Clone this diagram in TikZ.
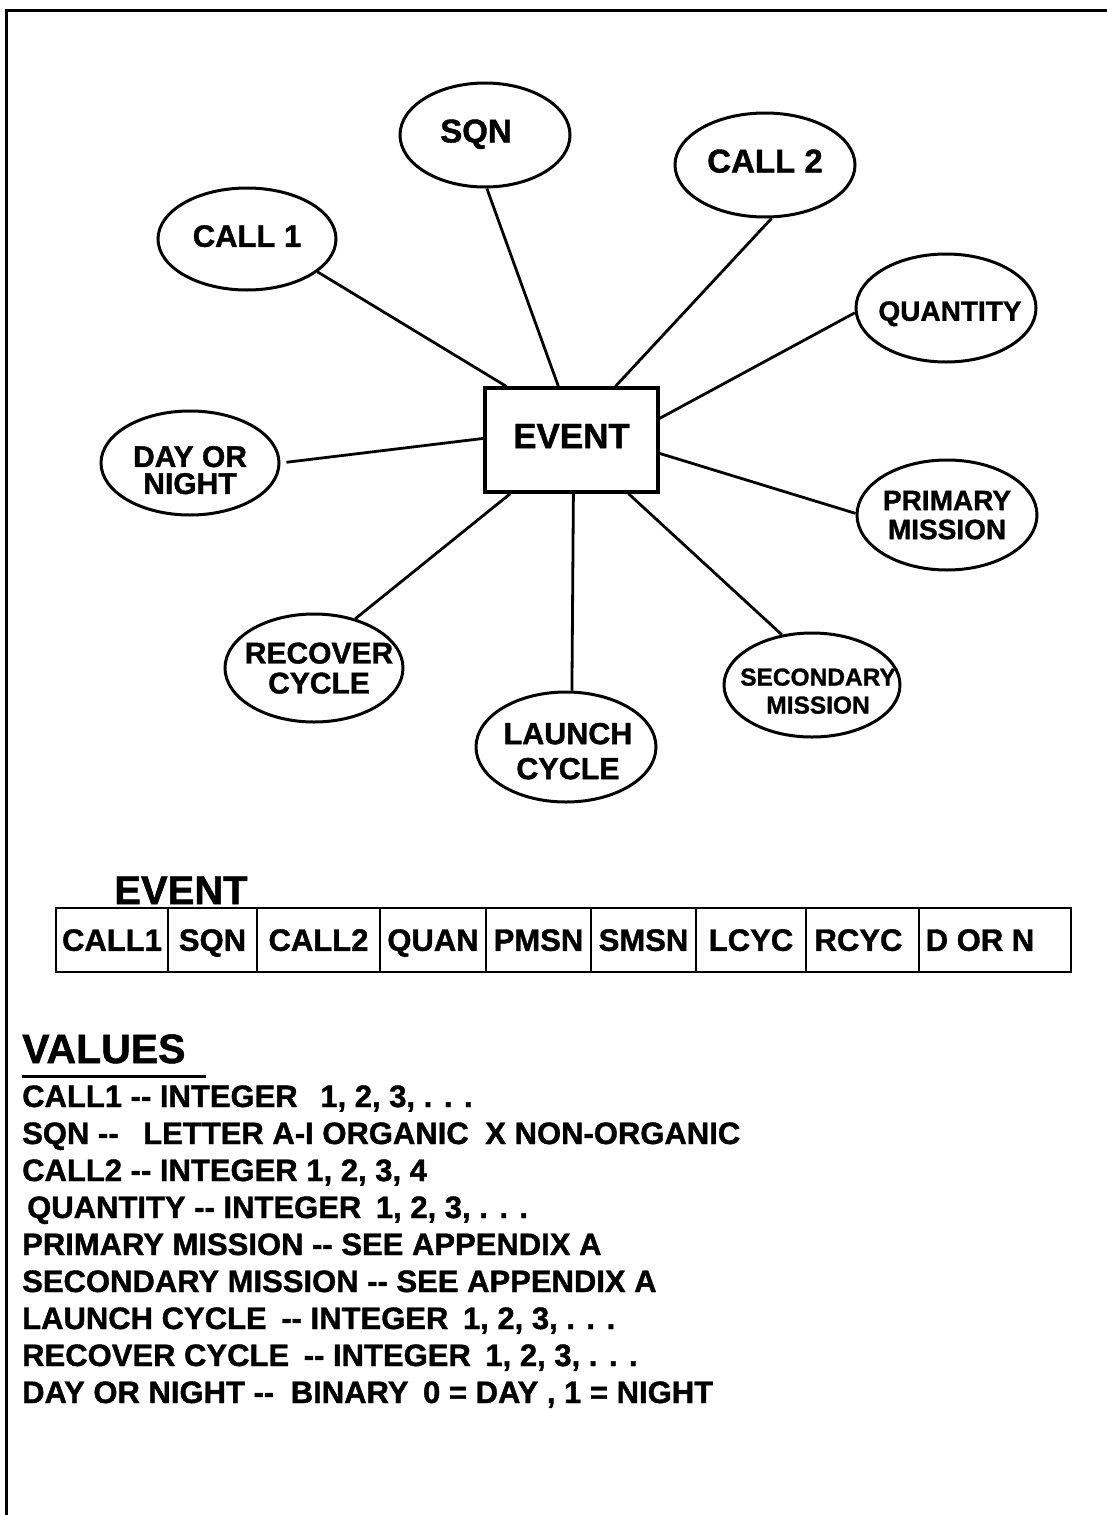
\documentclass[tikz,border=0pt]{standalone}
\usepackage{fontspec}
\setmainfont{Liberation Sans}[BoldFont={Liberation Sans Bold}, BoldFeatures={FakeBold=1.2}]
\usetikzlibrary{shapes.geometric,calc}
\newcommand\fsz[2]{\fontsize{#1}{#2}\selectfont\bfseries}
\begin{document}
\begin{tikzpicture}[x=1pt,y=-1pt,
  bubble/.style={ellipse, draw, line width=3pt, inner sep=0pt},
  lbl/.style={inner sep=0pt, align=center, text depth=0pt},
  link/.style={line width=2.8pt},
  cell/.style={draw, line width=2.4pt, minimum height=64pt, inner sep=0pt, text depth=0pt, font=\fsz{31}{31}},
  vline/.style={anchor=base west, inner sep=0pt, font=\fsz{31}{37}}]
\useasboundingbox (0,0) rectangle (1107,1515);
\fill[white] (0,0) rectangle (1107,1515);
% frame
\draw[line width=3pt] (6,1515) -- (6,10) -- (1107,10);

% central entity
\node[draw, line width=3.2pt, minimum width=173pt, minimum height=104pt, inner sep=0pt,
      label={[lbl,font=\fsz{35}{35},yshift=4pt]center:EVENT}] (ev) at (571.5,440) {};

% attribute ellipses
\node[bubble, minimum width=178pt, minimum height=102pt,
      label={[lbl,font=\fsz{31}{31},yshift=3pt]center:CALL 1}] (c1) at (247,239) {};
\node[bubble, minimum width=170pt, minimum height=104pt,
      label={[lbl,font=\fsz{33}{33},xshift=-9pt,yshift=4pt]center:SQN}] (sqn) at (485,135) {};
\node[bubble, minimum width=180pt, minimum height=104pt,
      label={[lbl,font=\fsz{33}{33},yshift=4pt]center:CALL 2}] (c2) at (765,165) {};
\node[bubble, minimum width=180pt, minimum height=108pt,
      label={[lbl,font=\fsz{28}{28},xshift=4pt,yshift=-3pt]center:QUANTITY}] (qty) at (946,308) {};
\node[bubble, minimum width=180pt, minimum height=110pt,
      label={[lbl,font=\fsz{28}{29}]center:PRIMARY\\MISSION}] (pm) at (947,515) {};
\node[bubble, minimum width=176pt, minimum height=104pt,
      label={[lbl,font=\fsz{24.5}{28},xshift=6pt,yshift=-6pt]center:SECONDARY\\MISSION}] (sm) at (812,685) {};
\node[bubble, minimum width=180pt, minimum height=110pt,
      label={[lbl,font=\fsz{30.5}{35},xshift=2pt,yshift=-4pt]center:LAUNCH\\CYCLE}] (lc) at (566,747) {};
\node[bubble, minimum width=178pt, minimum height=108pt,
      label={[lbl,font=\fsz{30}{30},xshift=5pt]center:RECOVER\\CYCLE}] (rc) at (314,668) {};
\node[bubble, minimum width=178pt, minimum height=104pt,
      label={[lbl,font=\fsz{30}{27},yshift=-7pt]center:DAY OR\\NIGHT}] (dn) at (190,463) {};

% connectors
\draw[link] (c1.-25) -- ($(ev.north west)+(23,0)$);
\draw[link] (sqn.-88) -- ($(ev.north west)+(75,0)$);
\draw[link] (c2.-83) -- ($(ev.north west)+(132,0)$);
\draw[link] (qty.-177) -- ($(ev.north east)+(0,32)$);
\draw[link] (pm.179) -- ($(ev.north east)+(0,67)$);
\draw[link] (sm.121) -- ($(ev.south west)+(145,0)$);
\draw[link] (lc.84) -- ($(ev.south west)+(90,0)$);
\draw[link] (rc.50) -- ($(ev.south west)+(27,0)$);
\draw[link, shorten <=6pt] (dn.east) -- ($(ev.north west)+(0,52)$);

% record layout
\node[anchor=base, inner sep=0pt, font=\fsz{40}{40}] (evlabel) at (181,904) {EVENT};
\node[cell, minimum width=112pt] (t1) at (112,940) {CALL1};
\node[cell, minimum width=89pt]  (t2) at (212.5,940) {SQN};
\node[cell, minimum width=123pt] (t3) at (318.5,940) {CALL2};
\node[cell, minimum width=106pt] (t4) at (433,940) {QUAN};
\node[cell, minimum width=105pt] (t5) at (538.5,940) {PMSN};
\node[cell, minimum width=105pt] (t6) at (643.5,940) {SMSN};
\node[cell, minimum width=110pt] (t7) at (751,940) {LCYC};
\node[cell, minimum width=113pt] (t8) at (862.5,940) {\hspace*{-8pt}RCYC};
\node[cell, minimum width=152pt] (t9) at (995,940) {\hspace*{-30pt}D OR N};

% values
\node[anchor=base west, inner sep=0pt, font=\fsz{41}{41}] (values) at (22,1063) {VALUES};
\draw[line width=3pt] ($(values.base west)+(0,13)$) -- ($(values.base west)+(184,13)$);
\node[vline] (v1) at (22,1107) {CALL1 {-}{-} INTEGER\hspace{14pt} 1, 2, 3, . . .};
\node[vline] (v2) at (22,1144) {SQN {-}{-}\hspace{16pt} LETTER A-I ORGANIC\hspace{8pt} X NON-ORGANIC};
\node[vline] (v3) at (22,1181) {CALL2 {-}{-} INTEGER 1, 2, 3, 4};
\node[vline] (v4) at (27,1218) {QUANTITY {-}{-} INTEGER\hspace{6pt} 1, 2, 3, . . .};
\node[vline] (v5) at (22,1255) {PRIMARY MISSION {-}{-} SEE APPENDIX A};
\node[vline] (v6) at (22,1292) {SECONDARY MISSION {-}{-} SEE APPENDIX A};
\node[vline] (v7) at (22,1329) {LAUNCH CYCLE\hspace{6pt} {-}{-} INTEGER\hspace{6pt} 1, 2, 3, . . .};
\node[vline] (v8) at (22,1366) {RECOVER CYCLE\hspace{6pt} {-}{-} INTEGER\hspace{6pt} 1, 2, 3, . . .};
\node[vline] (v9) at (22,1403) {DAY OR NIGHT {-}{-}\hspace{8pt} BINARY\hspace{6pt} 0 = DAY , 1 = NIGHT};
\end{tikzpicture}
\end{document}
